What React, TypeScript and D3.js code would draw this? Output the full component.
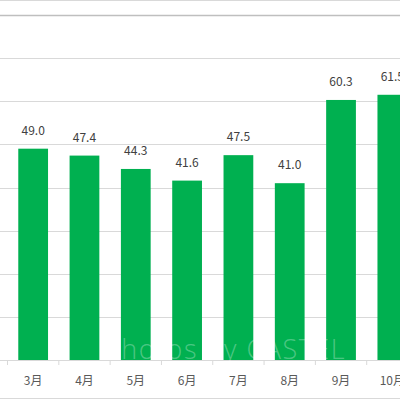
import * as d3 from 'd3'

const months = ['3月', '4月', '5月', '6月', '7月', '8月', '9月', '10月']
const values = [49.0, 47.4, 44.3, 41.6, 47.5, 41.0, 60.3, 61.5]
const gridTicks = [0, 10, 20, 30, 40, 50, 60, 70, 80]

const W = 400
const H = 400
const FONT = '"Noto Sans CJK JP", "Noto Sans", sans-serif'

export default function App() {
  // the view is a crop: the y axis sits off to the left, 10月 runs past the right edge
  const x = d3
    .scaleBand<string>()
    .domain(months)
    .range([7.5, 418])
    .paddingInner(0.42)
    .paddingOuter(0.21)
  const y = d3.scaleLinear().domain([0, 80]).range([360, 15])
  const step = x.step()
  const gap = (step * x.paddingInner()) / 2
  const boundaries = months.map((m) => (x(m) ?? 0) - gap)

  return (
    <svg
      width={W}
      height={H}
      viewBox={`0 0 ${W} ${H}`}
      style={{ position: 'absolute', left: 0, top: 0, background: '#fff' }}
    >
      <rect x={0} y={0} width={W} height={H} fill="#fff" />
      <line x1={0} x2={W} y1={0.5} y2={0.5} stroke="#d9d9d9" />
      <line x1={0} x2={W} y1={H - 1.5} y2={H - 1.5} stroke="#d9d9d9" />

      {gridTicks.map((t) => (
        <line
          key={t}
          x1={0}
          x2={W}
          y1={Math.round(y(t)) + 0.5}
          y2={Math.round(y(t)) + 0.5}
          stroke={t === 80 ? '#bfbfbf' : '#d9d9d9'}
          strokeWidth={t === 80 ? 1.6 : 1}
        />
      ))}

      {months.map((m, i) => (
        <rect
          key={m}
          x={x(m)}
          y={y(values[i])}
          width={x.bandwidth()}
          height={y(0) - y(values[i])}
          fill="#00b050"
        />
      ))}

      <line x1={0} x2={W} y1={360.5} y2={360.5} stroke="#d9d9d9" />
      {boundaries.map((b, i) => (
        <line key={i} x1={b} x2={b} y1={360} y2={365} stroke="#d9d9d9" />
      ))}

      {months.map((m, i) => (
        <text
          key={m}
          x={(x(m) ?? 0) + x.bandwidth() / 2}
          y={y(values[i]) - 14}
          textAnchor="middle"
          fontFamily={FONT}
          fontSize={12}
          fill="#404040"
        >
          {values[i].toFixed(1)}
        </text>
      ))}

      {months.map((m) => (
        <text
          key={m}
          x={(x(m) ?? 0) + x.bandwidth() / 2}
          y={385}
          textAnchor="middle"
          fontFamily={FONT}
          fontSize={12}
          fill="#595959"
        >
          {m}
        </text>
      ))}

      <text
        x={104}
        y={359}
        fontFamily={'"Open Sans", sans-serif'}
        fontWeight={300}
        fontSize={27}
        fill="#ffffff"
        fillOpacity={0.3}
        letterSpacing={1.5}
      >
        Photos by CASTEL
      </text>
    </svg>
  )
}
